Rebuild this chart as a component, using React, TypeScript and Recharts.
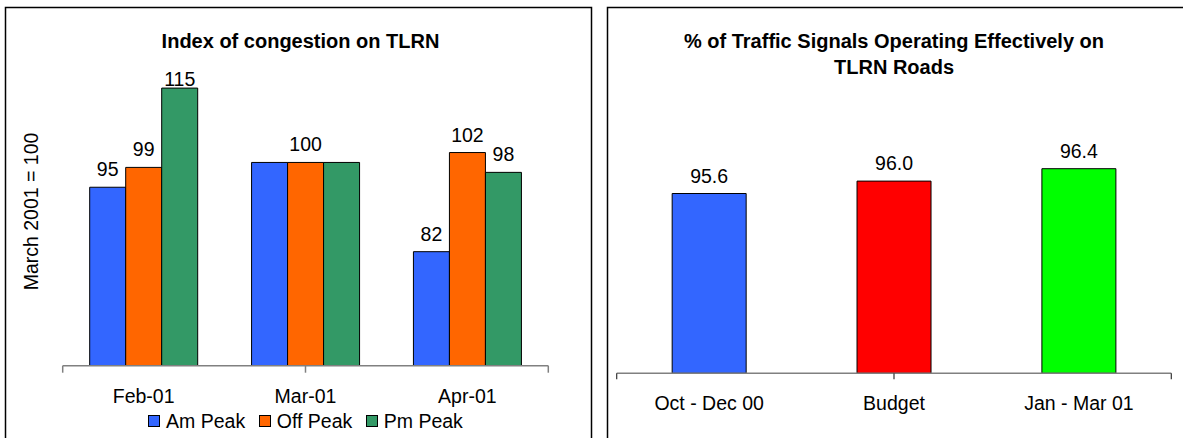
import { BarChart, Bar, XAxis, YAxis, Legend, Cell } from "recharts";

// congestion index (March 2001 = 100)
const months = ["Feb-01", "Mar-01", "Apr-01"];
const amPeak = [95, 100, 82];
const offPeak = [99, 100, 102];
const pmPeak = [115, 100, 98];
// Excel only labelled one of the three equal Mar-01 bars
const amHidden = ["Mar-01"];
const offHidden: string[] = [];
const pmHidden = ["Mar-01"];

// % of traffic signals operating effectively
const periods = ["Oct - Dec 00", "Budget", "Jan - Mar 01"];
const signalPct = [95.6, 96.0, 96.4];

const FONT = "'Liberation Sans', Arial, sans-serif";
const AXIS_GREY = "#808080";
const EDGE = "a_edge"; // axis with the boundary ticks, must sit right under the plot
const CAT = "b_cat";
const periodColors = ["#3366FF", "#FF0000", "#00FF00"];
const seriesStyle = [
  { key: "am", name: "Am Peak", color: "#3366FF", hidden: amHidden },
  { key: "off", name: "Off Peak", color: "#FF6600", hidden: offHidden },
  { key: "pm", name: "Pm Peak", color: "#339966", hidden: pmHidden },
];

const congestionData = months.map((m, i) => ({
  month: m,
  am: amPeak[i],
  off: offPeak[i],
  pm: pmPeak[i],
}));

const signalData = periods.map((p, i) => ({ period: p, pct: signalPct[i] }));

// edge axis: tick marks only, no text
const noTickLabel = () => <g />;

function makeLabel(hidden: string[], cats: string[], fmt: (v: number) => string, minBase = 0) {
  return (props: any) => {
    const { x, y, width, value, index } = props;
    const cat = props.payload?.month ?? props.payload?.period ?? cats[index];
    if (hidden.includes(cat)) return null;
    const base = Math.max(Number(y) - 11, minBase);
    return (
      <text
        x={Number(x) + Number(width) / 2}
        y={base}
        textAnchor="middle"
        fontSize={19.5}
        fontFamily={FONT}
        fill="#000"
      >
        {fmt(Number(value))}
      </text>
    );
  };
}

function CongestionLegend() {
  return (
    <div
      style={{
        display: "flex",
        justifyContent: "center",
        height: 20,
        lineHeight: "20px",
        fontSize: 19.5,
        fontFamily: FONT,
        color: "#000",
        whiteSpace: "nowrap",
      }}
    >
      {seriesStyle.map((s, i) => (
        <div
          key={s.key}
          style={{ display: "flex", alignItems: "center", marginRight: i < seriesStyle.length - 1 ? 13.5 : 0 }}
        >
          <span
            style={{
              display: "inline-block",
              width: 12,
              height: 12,
              boxSizing: "border-box",
              background: s.color,
              border: "1px solid #000",
              marginRight: 6,
            }}
          />
          <span>{s.name}</span>
        </div>
      ))}
    </div>
  );
}

function CongestionChart() {
  return (
    <BarChart
      width={600}
      height={438}
      data={congestionData}
      margin={{ top: 63.3, right: 51.7, bottom: 7, left: 62.7 }}
      barCategoryGap={27}
      barGap={0}
    >
      <XAxis
        xAxisId={CAT}
        dataKey="month"
        height={44.3}
        axisLine={false}
        tickLine={false}
        tickSize={0}
        tickMargin={22.8}
        interval={0}
        tick={{ fontSize: 19.5, fontFamily: FONT, fill: "#000" }}
      />
      <XAxis
        xAxisId={EDGE}
        type="number"
        domain={[0, 3]}
        ticks={[0, 1, 2, 3]}
        interval={0}
        allowDataOverflow
        height={1}
        tick={noTickLabel}
        tickSize={7}
        axisLine={{ stroke: AXIS_GREY, strokeWidth: 1.5 }}
        tickLine={{ stroke: AXIS_GREY, strokeWidth: 1.5 }}
      />
      <YAxis hide type="number" domain={[59, 120]} allowDataOverflow />
      <Legend
        verticalAlign="bottom"
        height={20}
        wrapperStyle={{ left: 62.7 }}
        content={() => <CongestionLegend />}
      />
      {seriesStyle.map((s) => (
        <Bar
          key={s.key}
          xAxisId={CAT}
          dataKey={s.key}
          name={s.name}
          fill={s.color}
          stroke="#000"
          strokeWidth={1}
          isAnimationActive={false}
          label={makeLabel(s.hidden, months, (v) => String(v), 86)}
        />
      ))}
    </BarChart>
  );
}

function SignalsChart() {
  return (
    <BarChart
      width={593}
      height={438}
      data={signalData}
      margin={{ top: 125.3, right: 11.7, bottom: 0, left: 26.7 }}
      barCategoryGap="30%"
      barGap={0}
    >
      <XAxis
        xAxisId={CAT}
        dataKey="period"
        height={63.7}
        axisLine={false}
        tickLine={false}
        tickSize={0}
        tickMargin={21.6}
        interval={0}
        tick={{ fontSize: 19.5, fontFamily: FONT, fill: "#000" }}
      />
      <XAxis
        xAxisId={EDGE}
        type="number"
        domain={[0, 3]}
        ticks={[0, 1, 2, 3]}
        interval={0}
        allowDataOverflow
        height={1}
        tick={noTickLabel}
        tickSize={6}
        axisLine={{ stroke: AXIS_GREY, strokeWidth: 1.5 }}
        tickLine={{ stroke: "#333", strokeWidth: 1.2 }}
      />
      <YAxis hide type="number" domain={[89.8, 97.8]} allowDataOverflow />
      <Bar
        xAxisId={CAT}
        dataKey="pct"
        stroke="#000"
        strokeWidth={1}
        isAnimationActive={false}
        label={makeLabel([], periods, (v) => v.toFixed(1))}
      >
        {signalData.map((d, i) => (
          <Cell key={d.period} fill={periodColors[i]} />
        ))}
      </Bar>
    </BarChart>
  );
}

export default function App() {
  return (
    <div
      style={{
        position: "absolute",
        left: 0,
        top: 0,
        width: 1183,
        height: 438,
        overflow: "hidden",
        background: "#fff",
        fontFamily: FONT,
      }}
    >
      <div style={{ position: "absolute", left: 0, top: 0 }}>
        <CongestionChart />
      </div>
      <div style={{ position: "absolute", left: 590, top: 0 }}>
        <SignalsChart />
      </div>
      <svg
        width={1183}
        height={438}
        style={{ position: "absolute", left: 0, top: 0, pointerEvents: "none" }}
      >
        <rect x={5.5} y={7.5} width={586} height={445} fill="none" stroke="#000" strokeWidth={1.5} />
        <rect x={607.5} y={7.5} width={600} height={445} fill="none" stroke="#000" strokeWidth={1.5} />
        <text x={300.5} y={48.3} textAnchor="middle" fontSize={20} fontWeight="bold" fontFamily={FONT} fill="#000">
          Index of congestion on TLRN
        </text>
        <text
          x={38}
          y={211.5}
          transform="rotate(-90 38 211.5)"
          textAnchor="middle"
          fontSize={19.5}
          fontFamily={FONT}
          fill="#000"
        >
          March 2001 = 100
        </text>
        <text x={894} y={48} textAnchor="middle" fontSize={20} fontWeight="bold" fontFamily={FONT} fill="#000">
          % of Traffic Signals Operating Effectively on
        </text>
        <text x={894} y={74} textAnchor="middle" fontSize={20} fontWeight="bold" fontFamily={FONT} fill="#000">
          TLRN Roads
        </text>
      </svg>
    </div>
  );
}
